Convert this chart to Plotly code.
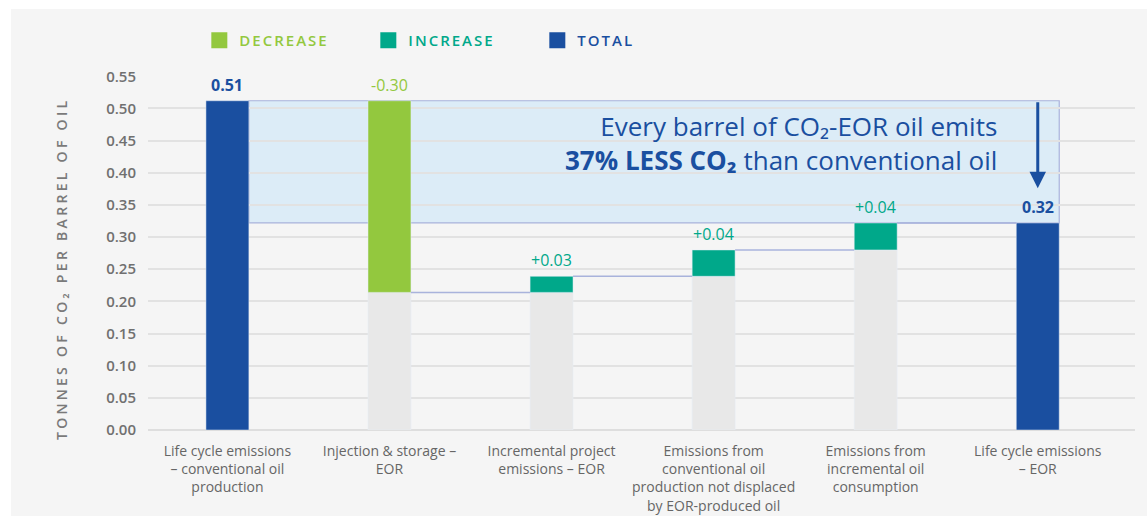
import plotly.graph_objects as go

# ---------------- data ----------------
categories = [
    "Life cycle emissions<br>– conventional oil<br>production",
    "Injection & storage –<br>EOR",
    "Incremental project<br>emissions – EOR",
    "Emissions from<br>conventional oil<br>production not displaced<br>by EOR-produced oil",
    "Emissions from<br>incremental oil<br>consumption",
    "Life cycle emissions<br>– EOR",
]
start_total = 0.512
deltas = [-0.298, 0.025, 0.041, 0.042]
end_total = 0.322
value_labels = ["0.51", "-0.30", "+0.03", "+0.04", "+0.04", "0.32"]
y_ticks = [0.00, 0.05, 0.10, 0.15, 0.20, 0.25, 0.30, 0.35, 0.40, 0.45, 0.50, 0.55]
legend_names = ["DECREASE", "INCREASE", "TOTAL"]

# ---------------- styles ----------------
C_DEC = "#93c83e"
C_INC = "#00a88a"
C_TOT = "#1a4fa0"
C_BASE = "#e8e8e8"
C_CONN = "#a9b3dc"
C_BAND = "#dcecf7"
BG = "#f5f5f5"
FONT = "Open Sans"
BW = 0.265

xs = list(range(len(categories)))

# cumulative levels
levels = [start_total]
for d in deltas:
    levels.append(levels[-1] + d)
float_x = xs[1:-1]
float_bottom = [min(levels[i], levels[i + 1]) for i in range(len(deltas))]
float_height = [abs(d) for d in deltas]

fig = go.Figure()

fig.add_trace(go.Bar(x=float_x, y=float_bottom, marker_color=C_BASE, width=BW,
                     showlegend=False, hoverinfo="skip"))
dec_idx = [i for i, d in enumerate(deltas) if d < 0]
inc_idx = [i for i, d in enumerate(deltas) if d >= 0]
fig.add_trace(go.Bar(x=[float_x[i] for i in dec_idx], y=[float_height[i] for i in dec_idx],
                     base=[float_bottom[i] for i in dec_idx], marker_color=C_DEC, width=BW,
                     showlegend=False))
fig.add_trace(go.Bar(x=[float_x[i] for i in inc_idx], y=[float_height[i] for i in inc_idx],
                     base=[float_bottom[i] for i in inc_idx], marker_color=C_INC, width=BW,
                     showlegend=False))
fig.add_trace(go.Bar(x=[xs[0], xs[-1]], y=[start_total, end_total], marker_color=C_TOT,
                     width=BW, showlegend=False))

for name, col in zip(legend_names, [C_DEC, C_INC, C_TOT]):
    fig.add_trace(go.Scatter(
        x=[None], y=[None], mode="markers",
        marker=dict(symbol="square", size=16, color=col),
        name=f'<span style="color:{col};letter-spacing:2px">{name}</span>'))

shapes = []
shapes.append(dict(type="rect", xref="x", yref="y", x0=xs[0] + BW / 2, x1=xs[-1] + BW / 2,
                   y0=end_total, y1=start_total, fillcolor=C_BAND,
                   line=dict(color=C_CONN, width=1.2), layer="below"))
for i in range(len(deltas)):
    shapes.append(dict(type="line", xref="x", yref="y",
                       x0=xs[i + 1] + BW / 2, x1=xs[i + 2] - BW / 2,
                       y0=levels[i + 1], y1=levels[i + 1],
                       line=dict(color=C_CONN, width=1.5)))
shapes.append(dict(type="rect", xref="paper", yref="paper", x0=-0.2, x1=-0.1388,
                   y0=-0.3, y1=1.3, fillcolor="white", line=dict(width=0), layer="above"))
shapes.append(dict(type="rect", xref="paper", yref="paper", x0=-0.2, x1=1.1,
                   y0=1.1893, y1=1.3, fillcolor="white", line=dict(width=0), layer="above"))

annotations = []
tops = [start_total] + [max(levels[i], levels[i + 1]) for i in range(len(deltas))] + [end_total]
label_colors = [C_TOT] + [C_DEC if d < 0 else C_INC for d in deltas] + [C_TOT]
for i, (x, t, lab, col) in enumerate(zip(xs, tops, value_labels, label_colors)):
    txt = f"<b>{lab}</b>" if i in (0, len(xs) - 1) else lab
    annotations.append(dict(x=x, y=t, xref="x", yref="y", text=txt, showarrow=False,
                            yanchor="bottom", yshift=3,
                            font=dict(family=FONT, size=16, color=col)))
annotations.append(dict(x=xs[-1], y=0.376, ax=xs[-1], ay=start_total, xref="x", yref="y",
                        axref="x", ayref="y", showarrow=True, arrowhead=2, arrowsize=1.1,
                        arrowwidth=3, arrowcolor=C_TOT, text=""))
annotations.append(dict(x=4.76, y=0.447, xref="x", yref="y", xanchor="right", yanchor="middle",
                        align="right", showarrow=False,
                        text="Every barrel of CO₂-EOR oil emits<br><b>37% LESS CO₂</b> than conventional oil",
                        font=dict(family=FONT, size=26, color=C_TOT)))
annotations.append(dict(x=-0.087, y=0.455, xref="paper", yref="paper", textangle=-90,
                        showarrow=False, xanchor="center", yanchor="middle",
                        text='<span style="letter-spacing:3.3px">TONNES OF CO₂ PER BARREL OF OIL</span>',
                        font=dict(family=FONT, size=14, color="#7a7a7a", weight=600)))

fig.update_layout(
    width=1147, height=516,
    margin=dict(l=148, r=12, t=76, b=86, autoexpand=False),
    paper_bgcolor=BG, plot_bgcolor=BG,
    barmode="overlay",
    font=dict(family=FONT, color="#666666"),
    shapes=shapes, annotations=annotations,
    legend=dict(orientation="h", x=0.052, y=1.1, xanchor="left", yanchor="middle",
                bgcolor="rgba(0,0,0,0)", font=dict(size=15, family=FONT, weight=600),
                entrywidth=124, itemclick=False),
    xaxis=dict(range=[-0.49, 5.6], tickvals=xs, ticktext=categories, showgrid=False,
               zeroline=False, showline=False, ticks="", ticklabelstandoff=11,
               tickfont=dict(family=FONT, size=14, color="#666666")),
    yaxis=dict(range=[0, 0.5505], tickvals=y_ticks, tickformat=".2f", showgrid=True,
               gridcolor="#e2e2e2", gridwidth=1.5, zeroline=True, zerolinecolor="#dedede",
               zerolinewidth=2, ticklabelstandoff=11,
               tickfont=dict(family=FONT, size=15, color="#707070", weight=600)),
)

fig.write_html("out.html")
